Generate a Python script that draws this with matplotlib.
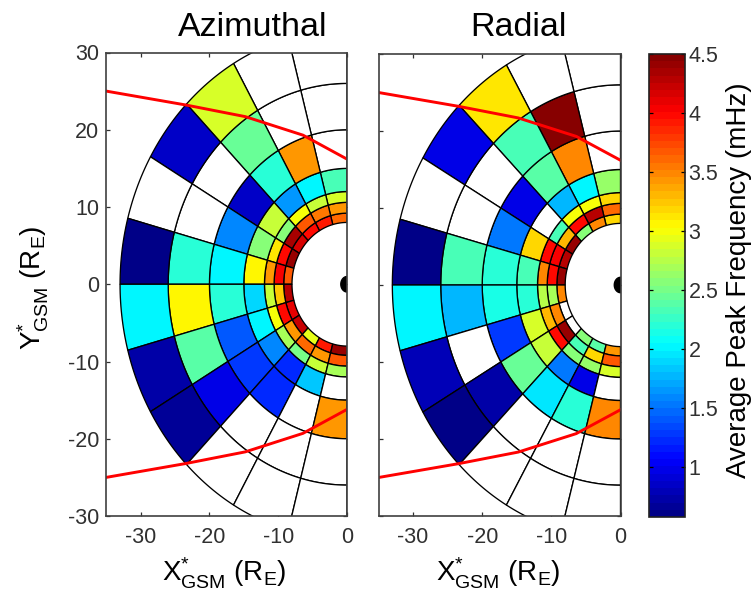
import numpy as np
import matplotlib
matplotlib.use('Agg')
import matplotlib.pyplot as plt
from matplotlib.cm import ScalarMappable
from matplotlib.colors import ListedColormap, Normalize

plt.rcParams['font.family'] = ['Liberation Sans', 'DejaVu Sans']
plt.rcParams['mathtext.fontset'] = 'custom'
plt.rcParams['mathtext.rm'] = 'Liberation Sans'
plt.rcParams['mathtext.it'] = 'Liberation Sans'
plt.rcParams['mathtext.bf'] = 'Liberation Sans:bold'
plt.rcParams['axes.unicode_minus'] = False

WIDTH, HEIGHT = 755, 596
nan = np.nan

# ring edges (R_E) and sector edges (deg, measured from +X through +Y)
radii = [8, 9.2, 10.6, 12, 15, 20, 26, 33]
angles = [90, 105, 120, 135, 150, 165, 180, 195, 210, 225, 240, 255, 270]

# rows are rings from inside out, columns are sectors from 90 to 270 deg
azimuthal = [
    [3.6, 3.9, 4.0, 4.15, 4.4, 3.7, 4.3, 4.1, 4.2, 2.95, 3.9, 4.4],
    [3.4, 3.55, 3.7, 4.35, 3.95, 4.05, 3.25, 3.95, 3.45, 3.6, 3.45, 3.7],
    [2.85, 2.8, 3.0, 2.55, 3.15, 3.4, 2.8, 3.0, 2.7, 2.5, 2.8, 2.7],
    [2.3, 2.0, 1.65, 2.8, 2.6, 3.05, 1.9, 2.0, 1.6, 1.2, 1.85, nan],
    [nan, 3.4, 2.2, 0.85, 1.6, 2.05, 2.2, 1.4, 1.3, 1.2, nan, 3.4],
    [nan, nan, 2.45, nan, nan, 2.2, 3.05, 2.4, 1.0, nan, nan, nan],
    [nan, nan, 2.85, 0.85, nan, 0.6, 2.0, 0.75, 0.65, nan, nan, nan],
]
radial = [
    [3.2, 3.5, 2.6, 4.4, 4.3, 4.4, 3.5, nan, nan, 2.6, 2.4, 3.45],
    [3.6, 4.3, 3.95, 3.3, 4.05, 4.0, 2.7, 3.5, 4.4, 2.35, 3.2, 3.7],
    [3.2, 3.0, 3.0, 2.3, 4.0, 3.5, 2.75, 3.3, 4.0, 2.6, 2.65, 2.85],
    [2.65, 2.05, 1.8, nan, 3.2, 2.35, 2.2, 2.85, 2.8, 1.55, 0.95, nan],
    [nan, 3.5, 2.4, 0.95, 1.5, 2.2, 2.15, 1.3, 2.45, 1.95, 2.2, 3.5],
    [nan, 4.5, 2.35, nan, nan, 2.35, 1.8, nan, 0.75, nan, nan, nan],
    [nan, nan, 3.15, 0.95, nan, 0.6, 2.0, 0.8, 0.6, nan, nan, nan],
]

# magnetopause, mirrored about Y=0
mp_x = [-35, -23.4, -14.8, -6.4, 0]
mp_y = [25.0, 23.2, 21.7, 19.3, 16.2]

x_ticks = [-30, -20, -10, 0]
y_ticks = [-30, -20, -10, 0, 10, 20, 30]
cbar_ticks = [1, 1.5, 2, 2.5, 3, 3.5, 4, 4.5]
cbar_labels = ['1', '1.5', '2', '2.5', '3', '3.5', '4', '4.5']


# the 64 level jet the reference uses, it has yellow earlier than matplotlib's
def old_jet(n=64):
    x = (np.arange(n) + 0.5) / n
    r = np.clip(1.5 - np.abs(4 * x - 3), 0, 1)
    g = np.clip(1.5 - np.abs(4 * x - 2), 0, 1)
    b = np.clip(1.5 - np.abs(4 * x - 1), 0, 1)
    return ListedColormap(np.c_[r, g, b])


cmap = old_jet()
norm = Normalize(vmin=0.58, vmax=4.5)


def px_axes(fig, left, top, right, bottom):
    return fig.add_axes([left / WIDTH, 1 - bottom / HEIGHT,
                         (right - left) / WIDTH, (bottom - top) / HEIGHT])


def px_text(fig, x, y, s, **kw):
    fig.text(x / WIDTH, 1 - y / HEIGHT, s, ha='center', va='center', **kw)


def draw_panel(ax, values):
    for i in range(len(radii) - 1):
        for j in range(len(angles) - 1):
            th = np.radians(np.linspace(angles[j], angles[j + 1], 16))
            xs = np.r_[radii[i] * np.cos(th), radii[i + 1] * np.cos(th[::-1])]
            ys = np.r_[radii[i] * np.sin(th), radii[i + 1] * np.sin(th[::-1])]
            val = values[i][j]
            face = 'white' if np.isnan(val) else cmap(norm(val))
            ax.fill(xs, ys, facecolor=face, edgecolor='black', linewidth=0.95, zorder=2)

    # earth
    th = np.linspace(0, 2 * np.pi, 60)
    ax.fill(np.cos(th) * 0.9, np.sin(th), color='black', zorder=3)

    ax.plot(mp_x, mp_y, color='#ff0000', linewidth=2.1, zorder=4)
    ax.plot(mp_x, -np.array(mp_y), color='#ff0000', linewidth=2.1, zorder=4)

    ax.set_xlim(-35, 0)
    ax.set_ylim(-30, 30)
    ax.set_xticks(x_ticks)
    ax.set_yticks(y_ticks)
    ax.tick_params(direction='in', top=True, right=True, length=3, width=0.9,
                   color='#303030', labelcolor='#303030', labelsize=15.5)
    ax.tick_params(axis='x', pad=8)
    ax.tick_params(axis='y', pad=5)
    for sp in ax.spines.values():
        sp.set_color('#404040')
        sp.set_linewidth(1.2)
        sp.set_zorder(5)


fig = plt.figure(figsize=(WIDTH / 100, HEIGHT / 100), dpi=100)

ax1 = px_axes(fig, 106.3, 52.5, 347, 516)
draw_panel(ax1, azimuthal)

ax2 = px_axes(fig, 378.5, 54, 620.5, 516)
draw_panel(ax2, radial)
ax2.set_yticklabels([])

cax = px_axes(fig, 649, 54, 684.5, 517)
cb = fig.colorbar(ScalarMappable(norm=norm, cmap=cmap), cax=cax)
cb.set_ticks(cbar_ticks)
cb.set_ticklabels(cbar_labels)
cb.outline.set_linewidth(1.2)
cb.outline.set_edgecolor('#202020')
cax.tick_params(direction='in', left=True, right=True, length=3, width=0.9,
                color='black', labelcolor='#303030', labelsize=15.5, pad=3)

px_text(fig, 253, 27, 'Azimuthal', fontsize=24.5)
px_text(fig, 518, 27, 'Radial', fontsize=24.5)

x_label = r'$\mathrm{X}^{*}_{\mathrm{GSM}}$ (R$_{\mathrm{E}}$)'
y_label = r'$\mathrm{Y}^{*}_{\mathrm{GSM}}$ (R$_{\mathrm{E}}$)'
px_text(fig, 224, 573, x_label, fontsize=20)
px_text(fig, 498, 573, x_label, fontsize=20)
px_text(fig, 33, 288, y_label, fontsize=20, rotation=90)
px_text(fig, 739, 280, 'Average Peak Frequency (mHz)', fontsize=20, rotation=90)

fig.savefig('out.png', dpi=100)
